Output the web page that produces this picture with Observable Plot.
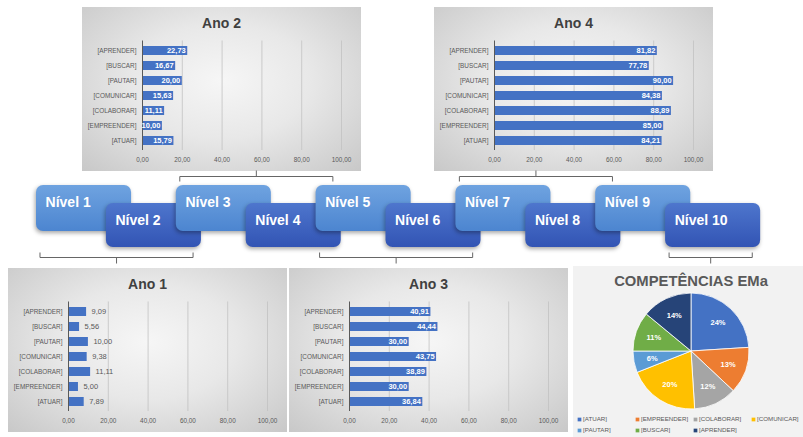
<!DOCTYPE html>
<html><head><meta charset="utf-8">
<script src="https://cdn.jsdelivr.net/npm/d3@7"></script>
<script src="https://cdn.jsdelivr.net/npm/@observablehq/plot@0.6"></script>
<style>
body{margin:0;background:#fff;font-family:"Liberation Sans",Arial,sans-serif;}
#root{position:relative;width:803px;height:437px;overflow:hidden;background:#fff;}
.panel{position:absolute;overflow:hidden;background:radial-gradient(ellipse at 50% 45%,#f6f6f6 0%,#e8e8e8 45%,#c8c8c8 100%);}
.panel .title{position:absolute;left:0;right:0;top:8px;line-height:17px;text-align:center;font-weight:bold;font-size:14px;color:#404040;}
.panel svg{position:absolute;left:0;top:0;}
#pie{background:#f2f2f2;}
#pie .title{width:236px;right:auto;font-size:14.8px;color:#595959;top:7px;}
#levels{position:absolute;left:0;top:165px;width:803px;height:100px;}
#levels g[aria-label="rect"] rect{filter:drop-shadow(-1px 2px 2px rgba(0,0,0,0.35));}
</style>
</head><body><div id="root"></div>
<script>
// ---------- data ----------
const categories = ["[ATUAR]","[EMPREENDER]","[COLABORAR]","[COMUNICAR]","[PAUTAR]","[BUSCAR]","[APRENDER]"];
const ano1 = [7.89, 5.00, 11.11, 9.38, 10.00, 5.56, 9.09];
const ano2 = [15.79, 10.00, 11.11, 15.63, 20.00, 16.67, 22.73];
const ano3 = [36.84, 30.00, 38.89, 43.75, 30.00, 44.44, 40.91];
const ano4 = [84.21, 85.00, 88.89, 84.38, 90.00, 77.78, 81.82];
const xTicks = [0, 20, 40, 60, 80, 100];
const pieTitle = "COMPETÊNCIAS EMa";
const pieShares = [24, 13, 12, 20, 6, 11, 14];
const pieColors = ["#4472c4","#ed7d31","#a5a5a5","#ffc000","#5b9bd5","#70ad47","#264478"];
const levels = ["Nível 1","Nível 2","Nível 3","Nível 4","Nível 5","Nível 6","Nível 7","Nível 8","Nível 9","Nível 10"];
const groupFirst = [1, 3, 5, 7, 10];
const groupLast  = [2, 4, 6, 8, 10];
const groupSide  = ["below","above","below","above","below"];

// ---------- helpers ----------
const root = document.getElementById("root");
const FONT = '"Liberation Sans", Arial, sans-serif';
const fmt2 = v => v.toFixed(2).replace(".", ",");

function barPanel(title, values, left, top, inside) {
  const el = document.createElement("div");
  el.className = "panel";
  Object.assign(el.style, {left: left + "px", top: top + "px", width: "279px", height: "164px"});
  const t = document.createElement("div");
  t.className = "title"; t.textContent = title; el.appendChild(t);
  const data = categories.map((c, i) => ({c, v: values[i]}));
  const svg = Plot.plot({
    width: 279, height: 164,
    marginLeft: 60, marginRight: 20, marginTop: 33.5, marginBottom: 21,
    style: {background: "transparent", fontFamily: FONT, fontSize: "6.4px", color: "#595959", overflow: "visible"},
    x: {domain: [0, 100], ticks: xTicks, tickFormat: fmt2, tickSize: 0, tickPadding: 7, label: null},
    y: {domain: categories.slice().reverse(), paddingInner: 0.42, paddingOuter: 0.2, tickSize: 0, tickPadding: 6, label: null},
    marks: [
      Plot.ruleX(xTicks.filter(t => t > 0), {stroke: "#c2c2c2", strokeWidth: 0.8}),
      Plot.barX(data, {x: "v", y: "c", fill: "#4472c4"}),
      Plot.ruleX([0], {stroke: "#595959", strokeWidth: 1}),
      inside
        ? Plot.text(data, {x: "v", y: "c", text: d => fmt2(d.v), textAnchor: "end", dx: -2, fill: "white", fontWeight: "bold", fontSize: 7.5})
        : Plot.text(data, {x: "v", y: "c", text: d => fmt2(d.v), textAnchor: "start", dx: 5, fill: "#595959", fontSize: 7.5})
    ]
  });
  el.appendChild(svg);
  root.appendChild(el);
}

barPanel("Ano 2", ano2, 82, 7, true);
barPanel("Ano 4", ano4, 434, 7, true);
barPanel("Ano 1", ano1, 8, 268, false);
barPanel("Ano 3", ano3, 289, 268, true);

// ---------- pie ----------
(function () {
  const el = document.createElement("div");
  el.className = "panel"; el.id = "pie";
  Object.assign(el.style, {left: "573px", top: "266px", width: "230px", height: "171px"});
  const t = document.createElement("div");
  t.className = "title"; t.textContent = pieTitle; el.appendChild(t);
  const pieData = categories.map((c, i) => ({c, s: pieShares[i]}));
  const colorScale = Plot.scale({color: {domain: categories, range: pieColors}});
  const CX = 118, CY = 85, R = 58;
  const pieMark = () => {
    const g = d3.create("svg:g").attr("transform", `translate(${CX},${CY})`);
    const arcs = d3.pie().value(d => d.s).sort(null)(pieData);
    const arc = d3.arc().innerRadius(0).outerRadius(R);
    const lab = d3.arc().innerRadius(R * 0.68).outerRadius(R * 0.68);
    g.selectAll("path").data(arcs).join("path")
      .attr("d", arc).attr("fill", d => colorScale.apply(d.data.c))
      .attr("stroke", "white").attr("stroke-width", 0.8);
    g.selectAll("text").data(arcs).join("text")
      .attr("transform", d => `translate(${lab.centroid(d)})`)
      .attr("text-anchor", "middle").attr("dy", "0.35em")
      .attr("fill", "white").attr("font-weight", "bold").attr("font-size", 7.5)
      .text(d => d.data.s + "%");
    return g.node();
  };
  const lx = (d, i) => 6 + (i % 4) * 58;
  const ly = (d, i) => 153 + Math.floor(i / 4) * 11;
  const svg = Plot.plot({
    width: 230, height: 171, margin: 0,
    style: {background: "transparent", fontFamily: FONT, overflow: "visible"},
    x: {type: "identity", axis: null}, y: {type: "identity", axis: null},
    color: {domain: categories, range: pieColors},
    marks: [
      pieMark,
      Plot.dot(pieData, {x: lx, y: ly, fill: "c", symbol: "square", r: 2.1}),
      Plot.text(pieData, {x: lx, y: ly, text: "c", textAnchor: "start", dx: 3.5, fill: "#595959", fontSize: 6.2})
    ]
  });
  el.appendChild(svg);
  root.appendChild(el);
})();

// ---------- levels diagram ----------
(function () {
  const el = document.createElement("div");
  el.id = "levels";
  const BOX_W = 1.36;
  const levelData = levels.map((name, k) => ({name, n: k + 1, odd: (k + 1) % 2 === 1}));
  const boxTop = d => d.odd ? 20 : 38;
  const boxBottom = d => d.odd ? 66 : 82;
  const segs = [];
  groupFirst.forEach((f, k) => {
    const xa = f + 0.05, xb = groupLast[k] + BOX_W - 0.12, xm = (xa + xb) / 2;
    const above = groupSide[k] === "above";
    const yl = above ? 11 : 92, dir = above ? 1 : -1;
    segs.push({x1: xa, x2: xb, y1: yl, y2: yl});
    segs.push({x1: xa, x2: xa, y1: yl, y2: yl + dir * 5});
    segs.push({x1: xb, x2: xb, y1: yl, y2: yl + dir * 5});
    segs.push({x1: xm, x2: xm, y1: yl, y2: yl - dir * 6});
  });
  const defs = () => {
    const d = d3.create("svg:defs");
    const mk = (id, a, b) => {
      const lg = d.append("linearGradient").attr("id", id).attr("x1", 0).attr("y1", 0).attr("x2", 0).attr("y2", 1);
      lg.append("stop").attr("offset", "0%").attr("stop-color", a);
      lg.append("stop").attr("offset", "100%").attr("stop-color", b);
    };
    mk("lvLight", "#6fa3e0", "#4c85d0");
    mk("lvDark", "#4e76cd", "#3254b4");
    return d.node();
  };
  const svg = Plot.plot({
    width: 803, height: 100, margin: 0,
    style: {background: "transparent", fontFamily: FONT, overflow: "visible"},
    x: {domain: [0.485, 11.973], range: [0, 803], axis: null},
    y: {type: "identity", axis: null},
    color: {type: "identity"},
    marks: [
      defs,
      Plot.link(segs, {x1: "x1", x2: "x2", y1: "y1", y2: "y2", stroke: "#666", strokeWidth: 1}),
      Plot.rect(levelData, {x1: "n", x2: d => d.n + BOX_W, y1: boxTop, y2: boxBottom,
        fill: d => d.odd ? "url(#lvLight)" : "url(#lvDark)", rx: 7}),
      Plot.text(levelData, {x: d => d.n + 0.13, y: d => boxTop(d) + 17, text: "name", textAnchor: "start",
        fill: "white", fontSize: 14, fontWeight: "bold"})
    ]
  });
  el.appendChild(svg);
  root.appendChild(el);
})();
</script>
</body></html>
